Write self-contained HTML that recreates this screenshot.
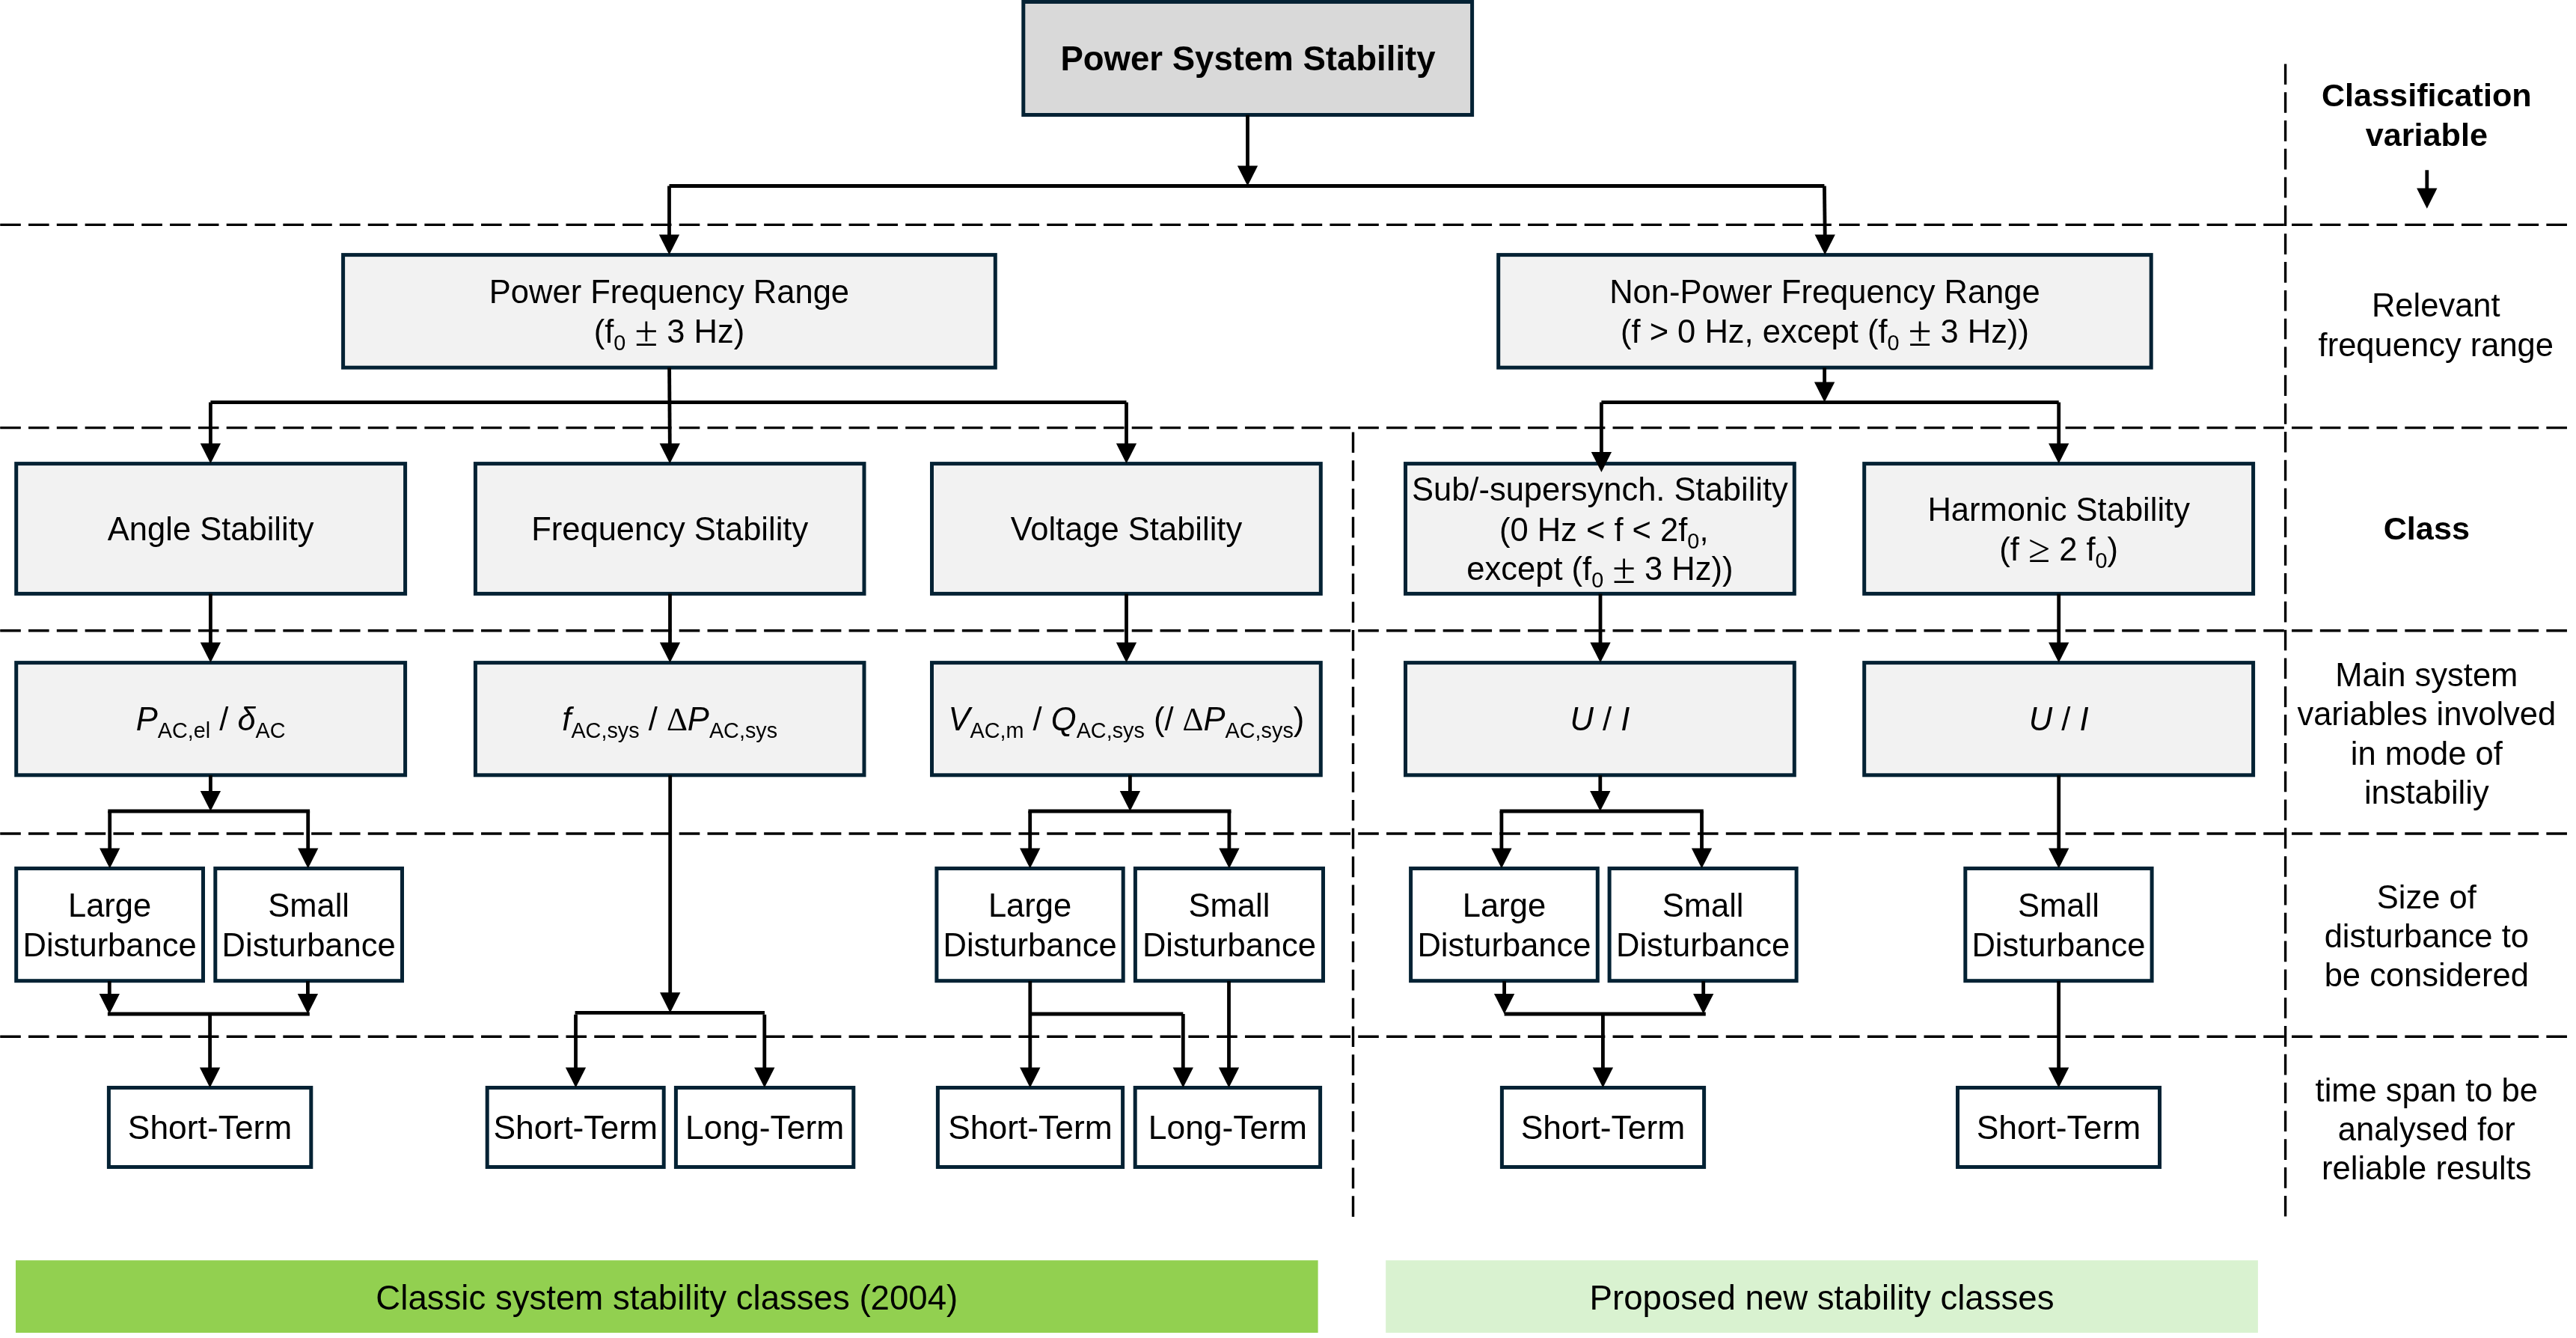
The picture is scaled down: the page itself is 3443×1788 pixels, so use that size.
<!DOCTYPE html>
<html lang="en"><head><meta charset="utf-8"><title>Power System Stability</title>
<style>
html,body{margin:0;padding:0;background:#fff}
body{width:3443px;height:1788px;overflow:hidden}
svg{display:block;will-change:transform}
text{font-family:"Liberation Sans", sans-serif;font-size:43.5px;fill:#000;text-anchor:middle;white-space:pre}
.tb{font-weight:bold;font-size:45.55px}
.b{font-weight:bold;font-size:43.2px}
.t10{font-size:45.6px}
.tt{font-size:44.4px}
.i{font-style:italic}
.s{font-size:28.8px;font-style:normal}
.pm{font-family:"Liberation Serif", "DejaVu Serif", serif;font-size:56px}
.ge{font-family:"Liberation Serif", "DejaVu Serif", serif;font-size:53px}
.g{font-family:"Liberation Serif", "DejaVu Serif", serif;font-style:normal}
.l{fill:none;stroke:#000;stroke-width:4.8}
.a{fill:#000;stroke:none}
.d{fill:none;stroke:#000;stroke-width:3.4;stroke-dasharray:27.6 10.213}
</style></head><body>
<svg width="3443" height="1788" viewBox="0 0 3443 1788">
<path d="M0.2 300.4H3431" class="d"/>
<path d="M0.2 571.6H3431" class="d"/>
<path d="M0.2 842.8H3431" class="d"/>
<path d="M0.2 1114.0H3431" class="d"/>
<path d="M0.2 1385.2H3431" class="d"/>
<path d="M1808.5 577.4V1626" class="d"/>
<path d="M3054.6 85.4V1625.8" class="d"/>
<rect x="1367.80" y="2.50" width="599.80" height="151.00" fill="#d9d9d9" stroke="#042234" stroke-width="5.0"/>
<rect x="458.60" y="340.60" width="871.70" height="150.60" fill="#f2f2f2" stroke="#042234" stroke-width="5.0"/>
<rect x="2002.70" y="340.60" width="872.50" height="150.60" fill="#f2f2f2" stroke="#042234" stroke-width="5.0"/>
<rect x="21.70" y="619.60" width="519.90" height="173.80" fill="#f2f2f2" stroke="#042234" stroke-width="5.0"/>
<rect x="21.70" y="885.60" width="519.90" height="150.20" fill="#f2f2f2" stroke="#042234" stroke-width="5.0"/>
<rect x="635.40" y="619.60" width="519.60" height="173.80" fill="#f2f2f2" stroke="#042234" stroke-width="5.0"/>
<rect x="635.40" y="885.60" width="519.60" height="150.20" fill="#f2f2f2" stroke="#042234" stroke-width="5.0"/>
<rect x="1245.50" y="619.60" width="519.80" height="173.80" fill="#f2f2f2" stroke="#042234" stroke-width="5.0"/>
<rect x="1245.50" y="885.60" width="519.80" height="150.20" fill="#f2f2f2" stroke="#042234" stroke-width="5.0"/>
<rect x="1878.50" y="619.60" width="519.80" height="173.80" fill="#f2f2f2" stroke="#042234" stroke-width="5.0"/>
<rect x="1878.50" y="885.60" width="519.80" height="150.20" fill="#f2f2f2" stroke="#042234" stroke-width="5.0"/>
<rect x="2491.70" y="619.60" width="519.90" height="173.80" fill="#f2f2f2" stroke="#042234" stroke-width="5.0"/>
<rect x="2491.70" y="885.60" width="519.90" height="150.20" fill="#f2f2f2" stroke="#042234" stroke-width="5.0"/>
<rect x="21.70" y="1160.50" width="249.80" height="150.20" fill="#fff" stroke="#042234" stroke-width="5.0"/>
<rect x="287.80" y="1160.50" width="249.70" height="150.20" fill="#fff" stroke="#042234" stroke-width="5.0"/>
<rect x="1251.90" y="1160.50" width="249.30" height="150.20" fill="#fff" stroke="#042234" stroke-width="5.0"/>
<rect x="1517.40" y="1160.50" width="251.10" height="150.20" fill="#fff" stroke="#042234" stroke-width="5.0"/>
<rect x="1885.60" y="1160.50" width="249.70" height="150.20" fill="#fff" stroke="#042234" stroke-width="5.0"/>
<rect x="2151.10" y="1160.50" width="250.00" height="150.20" fill="#fff" stroke="#042234" stroke-width="5.0"/>
<rect x="2626.80" y="1160.50" width="249.30" height="150.20" fill="#fff" stroke="#042234" stroke-width="5.0"/>
<rect x="145.40" y="1453.50" width="270.40" height="106.00" fill="#fff" stroke="#042234" stroke-width="5.0"/>
<rect x="651.20" y="1453.50" width="236.00" height="106.00" fill="#fff" stroke="#042234" stroke-width="5.0"/>
<rect x="903.40" y="1453.50" width="237.40" height="106.00" fill="#fff" stroke="#042234" stroke-width="5.0"/>
<rect x="1253.40" y="1453.50" width="247.20" height="106.00" fill="#fff" stroke="#042234" stroke-width="5.0"/>
<rect x="1517.20" y="1453.50" width="247.40" height="106.00" fill="#fff" stroke="#042234" stroke-width="5.0"/>
<rect x="2007.40" y="1453.50" width="270.20" height="106.00" fill="#fff" stroke="#042234" stroke-width="5.0"/>
<rect x="2616.50" y="1453.50" width="270.00" height="106.00" fill="#fff" stroke="#042234" stroke-width="5.0"/>
<rect x="21" y="1684.2" width="1740.6" height="96.8" fill="#92d050"/>
<rect x="1852.2" y="1684.2" width="1165.7" height="96.8" fill="#d9f2d0"/>
<path d="M1667.50 153.60V222.40" class="l"/>
<path d="M1653.85 221.40H1681.15L1667.50 248.50Z" class="a"/>
<path d="M894.50 248.50H2438.40" class="l"/>
<path d="M894.50 248.50V314.50" class="l"/>
<path d="M880.85 313.50H908.15L894.50 340.60Z" class="a"/>
<path d="M2438.40 248.50L2439.20 314.50" class="l"/>
<path d="M2425.55 313.50H2452.85L2439.20 340.60Z" class="a"/>
<path d="M894.60 491.30L895.30 593.50" class="l"/>
<path d="M881.65 592.50H908.95L895.30 619.60Z" class="a"/>
<path d="M281.40 537.60H1505.50" class="l"/>
<path d="M281.40 537.60V593.50" class="l"/>
<path d="M267.75 592.50H295.05L281.40 619.60Z" class="a"/>
<path d="M1505.50 537.60V593.50" class="l"/>
<path d="M1491.85 592.50H1519.15L1505.50 619.60Z" class="a"/>
<path d="M2438.60 491.30V511.50" class="l"/>
<path d="M2424.95 510.50H2452.25L2438.60 537.60Z" class="a"/>
<path d="M2140.40 537.60H2751.70" class="l"/>
<path d="M2140.40 537.60V604.90" class="l"/>
<path d="M2126.75 603.90H2154.05L2140.40 631.00Z" class="a"/>
<path d="M2751.70 537.60V593.50" class="l"/>
<path d="M2738.05 592.50H2765.35L2751.70 619.60Z" class="a"/>
<path d="M281.40 793.50V859.50" class="l"/>
<path d="M267.75 858.50H295.05L281.40 885.60Z" class="a"/>
<path d="M895.50 793.50V859.50" class="l"/>
<path d="M881.85 858.50H909.15L895.50 885.60Z" class="a"/>
<path d="M1505.50 793.50V859.50" class="l"/>
<path d="M1491.85 858.50H1519.15L1505.50 885.60Z" class="a"/>
<path d="M2139.00 793.50V859.50" class="l"/>
<path d="M2125.35 858.50H2152.65L2139.00 885.60Z" class="a"/>
<path d="M2751.70 793.50V859.50" class="l"/>
<path d="M2738.05 858.50H2765.35L2751.70 885.60Z" class="a"/>
<path d="M281.40 1036.00V1057.90" class="l"/>
<path d="M267.75 1056.90H295.05L281.40 1084.00Z" class="a"/>
<path d="M144.30 1084.00H414.10" class="l"/>
<path d="M146.70 1084.00V1134.40" class="l"/>
<path d="M133.05 1133.40H160.35L146.70 1160.50Z" class="a"/>
<path d="M411.70 1084.00V1134.40" class="l"/>
<path d="M398.05 1133.40H425.35L411.70 1160.50Z" class="a"/>
<path d="M146.30 1311.00V1328.90" class="l"/>
<path d="M132.65 1327.90H159.95L146.30 1355.00Z" class="a"/>
<path d="M411.40 1311.00V1328.90" class="l"/>
<path d="M397.75 1327.90H425.05L411.40 1355.00Z" class="a"/>
<path d="M143.90 1355.00H413.80" class="l"/>
<path d="M280.60 1355.00V1427.40" class="l"/>
<path d="M266.95 1426.40H294.25L280.60 1453.50Z" class="a"/>
<path d="M895.70 1036.00V1327.30" class="l"/>
<path d="M882.05 1326.30H909.35L895.70 1353.40Z" class="a"/>
<path d="M768.60 1353.40H1022.00" class="l"/>
<path d="M769.50 1355.80V1427.40" class="l"/>
<path d="M755.85 1426.40H783.15L769.50 1453.50Z" class="a"/>
<path d="M1021.80 1355.80V1427.40" class="l"/>
<path d="M1008.15 1426.40H1035.45L1021.80 1453.50Z" class="a"/>
<path d="M1510.40 1036.00V1057.90" class="l"/>
<path d="M1496.75 1056.90H1524.05L1510.40 1084.00Z" class="a"/>
<path d="M1374.40 1084.00H1645.50" class="l"/>
<path d="M1376.70 1084.00V1134.40" class="l"/>
<path d="M1363.05 1133.40H1390.35L1376.70 1160.50Z" class="a"/>
<path d="M1642.90 1084.00V1134.40" class="l"/>
<path d="M1629.25 1133.40H1656.55L1642.90 1160.50Z" class="a"/>
<path d="M1376.80 1311.00V1427.40" class="l"/>
<path d="M1363.15 1426.40H1390.45L1376.80 1453.50Z" class="a"/>
<path d="M1376.80 1355.00H1581.30" class="l"/>
<path d="M1581.30 1355.00V1427.40" class="l"/>
<path d="M1567.65 1426.40H1594.95L1581.30 1453.50Z" class="a"/>
<path d="M1642.50 1311.00V1427.40" class="l"/>
<path d="M1628.85 1426.40H1656.15L1642.50 1453.50Z" class="a"/>
<path d="M2138.80 1036.00V1057.90" class="l"/>
<path d="M2125.15 1056.90H2152.45L2138.80 1084.00Z" class="a"/>
<path d="M2004.60 1084.00H2276.80" class="l"/>
<path d="M2006.90 1084.00V1134.40" class="l"/>
<path d="M1993.25 1133.40H2020.55L2006.90 1160.50Z" class="a"/>
<path d="M2274.50 1084.00V1134.40" class="l"/>
<path d="M2260.85 1133.40H2288.15L2274.50 1160.50Z" class="a"/>
<path d="M2010.60 1311.00V1328.90" class="l"/>
<path d="M1996.95 1327.90H2024.25L2010.60 1355.00Z" class="a"/>
<path d="M2276.70 1311.00V1328.90" class="l"/>
<path d="M2263.05 1327.90H2290.35L2276.70 1355.00Z" class="a"/>
<path d="M2010.60 1355.00H2279.80" class="l"/>
<path d="M2142.40 1355.00V1427.40" class="l"/>
<path d="M2128.75 1426.40H2156.05L2142.40 1453.50Z" class="a"/>
<path d="M2751.70 1036.00V1134.40" class="l"/>
<path d="M2738.05 1133.40H2765.35L2751.70 1160.50Z" class="a"/>
<path d="M2751.60 1311.00V1427.40" class="l"/>
<path d="M2737.95 1426.40H2765.25L2751.60 1453.50Z" class="a"/>
<path d="M3243.80 227.30V252.60" class="l"/>
<path d="M3230.15 251.60H3257.45L3243.80 278.70Z" class="a"/>
<text x="1668.00" y="94.40" class="tb">Power System Stability</text>
<text x="894.45" y="404.80" class="t">Power Frequency Range</text>
<text x="894.45" y="458.00" class="t">(f<tspan class="s" dy="10">0</tspan><tspan dy="-10"> </tspan><tspan class="pm" dy="3.6">±</tspan><tspan dy="-3.6"> 3 Hz)</tspan></text>
<text x="2438.95" y="404.80" class="t">Non-Power Frequency Range</text>
<text x="2438.95" y="458.00" class="t">(f &gt; 0 Hz, except (f<tspan class="s" dy="10">0</tspan><tspan dy="-10"> </tspan><tspan class="pm" dy="3.6">±</tspan><tspan dy="-3.6"> 3 Hz))</tspan></text>
<text x="281.65" y="722.20" class="t">Angle Stability</text>
<text x="895.20" y="722.20" class="t">Frequency Stability</text>
<text x="1505.40" y="722.20" class="t">Voltage Stability</text>
<text x="2138.40" y="669.40" class="t">Sub/-supersynch. Stability</text>
<text x="2143.70" y="722.60" class="t">(0 Hz &lt; f &lt; 2f<tspan class="s" dy="10">0</tspan><tspan dy="-10">,</tspan></text>
<text x="2138.40" y="775.00" class="t">except (f<tspan class="s" dy="10">0</tspan><tspan dy="-10"> </tspan><tspan class="pm" dy="3.6">±</tspan><tspan dy="-3.6"> 3 Hz))</tspan></text>
<text x="2751.65" y="696.10" class="t">Harmonic Stability</text>
<text x="2751.65" y="749.20" class="t">(f <tspan class="ge" dy="2">≥</tspan><tspan dy="-2"> 2 f</tspan><tspan class="s" dy="10">0</tspan><tspan dy="-10">)</tspan></text>
<text x="281.65" y="976.00" class="t"><tspan class="i">P</tspan><tspan class="s" dy="10">AC,el</tspan><tspan dy="-10"> / </tspan><tspan class="i">δ</tspan><tspan class="s" dy="10">AC</tspan></text>
<text x="895.20" y="976.00" class="t"><tspan class="i">f</tspan><tspan class="s" dy="10">AC,sys</tspan><tspan dy="-10"> / </tspan><tspan class="g">Δ</tspan><tspan class="i">P</tspan><tspan class="s" dy="10">AC,sys</tspan></text>
<text x="1505.40" y="976.00" class="t"><tspan class="i">V</tspan><tspan class="s" dy="10">AC,m</tspan><tspan dy="-10"> / </tspan><tspan class="i">Q</tspan><tspan class="s" dy="10">AC,sys</tspan><tspan dy="-10"> (/ </tspan><tspan class="g">Δ</tspan><tspan class="i">P</tspan><tspan class="s" dy="10">AC,sys</tspan><tspan dy="-10">)</tspan></text>
<text x="2138.40" y="976.00" class="t"><tspan class="i">U</tspan> / <tspan class="i">I</tspan></text>
<text x="2751.65" y="976.00" class="t"><tspan class="i">U</tspan> / <tspan class="i">I</tspan></text>
<text x="146.60" y="1225.00" class="t">Large</text>
<text x="146.60" y="1277.50" class="t">Disturbance</text>
<text x="412.65" y="1225.00" class="t">Small</text>
<text x="412.65" y="1277.50" class="t">Disturbance</text>
<text x="1376.55" y="1225.00" class="t">Large</text>
<text x="1376.55" y="1277.50" class="t">Disturbance</text>
<text x="1642.95" y="1225.00" class="t">Small</text>
<text x="1642.95" y="1277.50" class="t">Disturbance</text>
<text x="2010.45" y="1225.00" class="t">Large</text>
<text x="2010.45" y="1277.50" class="t">Disturbance</text>
<text x="2276.10" y="1225.00" class="t">Small</text>
<text x="2276.10" y="1277.50" class="t">Disturbance</text>
<text x="2751.45" y="1225.00" class="t">Small</text>
<text x="2751.45" y="1277.50" class="t">Disturbance</text>
<text x="280.60" y="1522.00" class="tt">Short-Term</text>
<text x="769.20" y="1522.00" class="tt">Short-Term</text>
<text x="1022.10" y="1522.00" class="tt">Long-Term</text>
<text x="1377.00" y="1522.00" class="tt">Short-Term</text>
<text x="1640.90" y="1522.00" class="tt">Long-Term</text>
<text x="2142.50" y="1522.00" class="tt">Short-Term</text>
<text x="2751.50" y="1522.00" class="tt">Short-Term</text>
<text x="3243.30" y="142.30" class="b">Classification</text>
<text x="3243.30" y="195.00" class="b">variable</text>
<text x="3255.80" y="423.30" class="t">Relevant</text>
<text x="3255.80" y="475.50" class="t">frequency range</text>
<text x="3243.30" y="720.50" class="b">Class</text>
<text x="3243.30" y="917.00" class="t">Main system</text>
<text x="3243.30" y="969.30" class="t">variables involved</text>
<text x="3243.30" y="1021.60" class="t">in mode of</text>
<text x="3243.30" y="1073.90" class="t">instabiliy</text>
<text x="3243.30" y="1214.00" class="t">Size of</text>
<text x="3243.30" y="1266.20" class="t">disturbance to</text>
<text x="3243.30" y="1318.40" class="t">be considered</text>
<text x="3243.30" y="1471.50" class="t">time span to be</text>
<text x="3243.30" y="1523.70" class="t">analysed for</text>
<text x="3243.30" y="1575.90" class="t">reliable results</text>
<text x="891.30" y="1750.20" class="t10">Classic system stability classes (2004)</text>
<text x="2435.05" y="1750.20" class="t10">Proposed new stability classes</text>
</svg>
</body></html>
